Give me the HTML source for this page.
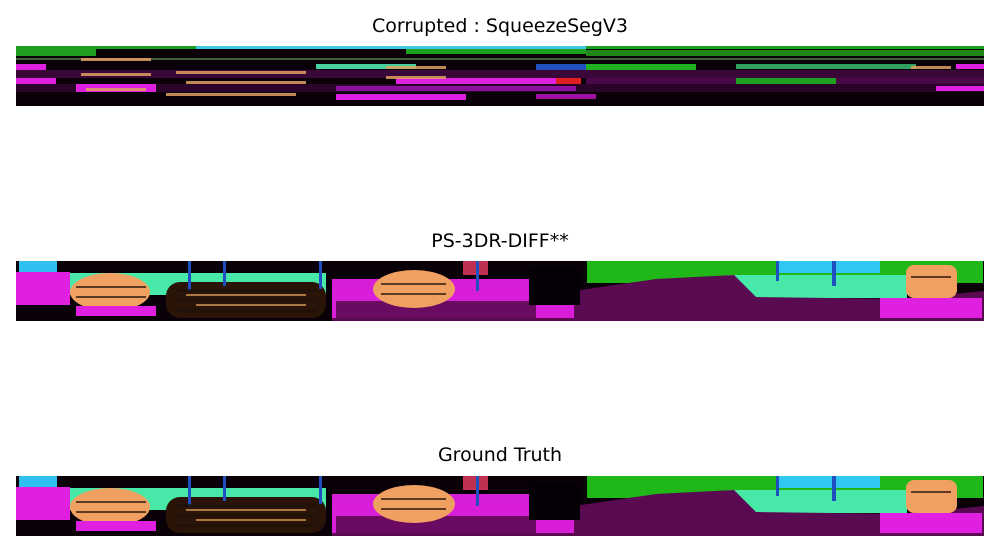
<!DOCTYPE html>
<html><head><meta charset="utf-8"><style>
body{margin:0;background:#fff;width:1000px;height:552px;overflow:hidden;font-family:"DejaVu Sans","Liberation Sans",sans-serif}
.t{position:absolute;width:1000px;text-align:center;font-size:19px;color:#000}
svg{position:absolute;left:0;top:0}
</style></head><body>
<div class="t" style="top:15px">Corrupted : SqueezeSegV3</div>
<div class="t" style="top:230px">PS-3DR-DIFF**</div>
<div class="t" style="top:444px">Ground Truth</div>
<svg width="1000" height="552">
<defs>
<g id="scene">
<rect x="0" y="0" width="968" height="60" fill="#0a0008"/>
<rect x="3" y="0" width="38" height="12" fill="#30c0f0"/>
<rect x="48" y="12" width="262" height="22" fill="#48e8a8"/>
<rect x="571" y="0" width="396" height="22" fill="#20b818"/>
<rect x="762" y="0" width="102" height="12" fill="#30c8f0"/>
<rect x="711" y="14" width="180" height="23" fill="#48e8a8"/>
<rect x="0" y="11" width="54" height="33" fill="#e020e0"/>
<path d="M316 30 L558 30 L640 18 L718 14 L740 36 L890 38 L968 30 L968 60 L316 60 Z" fill="#5a0a50"/>
<rect x="316" y="18" width="242" height="39" fill="#e020e0" opacity="0.95"/>
<rect x="320" y="40" width="200" height="17" fill="#6a0a60"/>
<rect x="513" y="7" width="51" height="37" fill="#050005"/>
<rect x="447" y="0" width="25" height="14" fill="#c03050"/>
<rect x="150" y="21" width="160" height="36" rx="14" fill="#2a1408"/>
<ellipse cx="94" cy="31" rx="40" ry="19" fill="#f0a060"/>
<ellipse cx="398" cy="28" rx="41" ry="19" fill="#f0a060"/>
<rect x="890" y="4" width="51" height="33" rx="8" fill="#f0a060"/>
<rect x="864" y="37" width="102" height="20" fill="#e020e0"/>
<rect x="60" y="45" width="80" height="10" fill="#e020e0"/>
<g fill="#2050c0"><rect x="172" y="0" width="3" height="30"/><rect x="207" y="0" width="3" height="25"/><rect x="303" y="0" width="3" height="28"/><rect x="460" y="0" width="3" height="30"/><rect x="760" y="0" width="3" height="20"/><rect x="816" y="0" width="4" height="25"/></g>
<g fill="#201008" opacity="0.7"><rect x="160" y="28" width="140" height="3"/><rect x="160" y="38" width="140" height="3"/><rect x="160" y="48" width="140" height="3"/><rect x="60" y="25" width="70" height="2"/><rect x="60" y="35" width="70" height="2"/><rect x="365" y="22" width="65" height="2"/><rect x="365" y="32" width="65" height="2"/><rect x="895" y="15" width="40" height="2"/></g>
<g fill="#d09050" opacity="0.8"><rect x="170" y="33" width="120" height="2"/><rect x="180" y="43" width="110" height="2"/></g>
</g>
</defs>
<g transform="translate(16,46)">
<rect x="0" y="0" width="968" height="60" fill="#0a0008"/>
<rect x="0" y="0" width="968" height="3" fill="#20a020"/><rect x="180" y="0" width="390" height="3" fill="#40c8e0"/>
<rect x="0" y="3" width="80" height="7" fill="#20a020"/><rect x="390" y="3" width="180" height="5" fill="#20a020"/><rect x="570" y="4" width="398" height="6" fill="#208818"/>
<rect x="0" y="12" width="968" height="2" fill="#406040"/>
<rect x="0" y="18" width="30" height="6" fill="#e020e0"/><rect x="300" y="18" width="100" height="5" fill="#48d0a0"/><rect x="570" y="18" width="110" height="6" fill="#20b020"/><rect x="720" y="18" width="180" height="5" fill="#30a060"/><rect x="520" y="18" width="50" height="6" fill="#2050c0"/><rect x="940" y="18" width="28" height="5" fill="#e020e0"/>
<rect x="0" y="24" width="968" height="8" fill="#3a0838"/>
<rect x="0" y="32" width="40" height="6" fill="#e020e0"/><rect x="380" y="32" width="170" height="6" fill="#e020e0"/><rect x="540" y="32" width="25" height="6" fill="#e02020"/><rect x="720" y="32" width="100" height="6" fill="#20a020"/><rect x="570" y="32" width="150" height="6" fill="#4a0848"/><rect x="820" y="32" width="148" height="6" fill="#4a0848"/>
<rect x="0" y="38" width="968" height="8" fill="#2a0428"/><rect x="60" y="38" width="80" height="8" fill="#e020e0"/><rect x="320" y="40" width="240" height="5" fill="#8a10a0"/><rect x="920" y="40" width="48" height="5" fill="#e020e0"/>
<rect x="320" y="48" width="130" height="6" fill="#e020e0"/><rect x="520" y="48" width="60" height="5" fill="#a010a0"/>
<g fill="#e0a060" opacity="0.85"><rect x="65" y="12" width="70" height="3"/><rect x="65" y="27" width="70" height="3"/><rect x="70" y="42" width="60" height="3"/><rect x="160" y="25" width="130" height="3"/><rect x="170" y="35" width="120" height="3"/><rect x="150" y="47" width="130" height="3"/><rect x="370" y="20" width="60" height="3"/><rect x="370" y="30" width="60" height="3"/><rect x="895" y="20" width="40" height="3"/></g>
</g>
<use href="#scene" x="16" y="261"/>
<use href="#scene" x="16" y="476"/>
</svg>
</body></html>
